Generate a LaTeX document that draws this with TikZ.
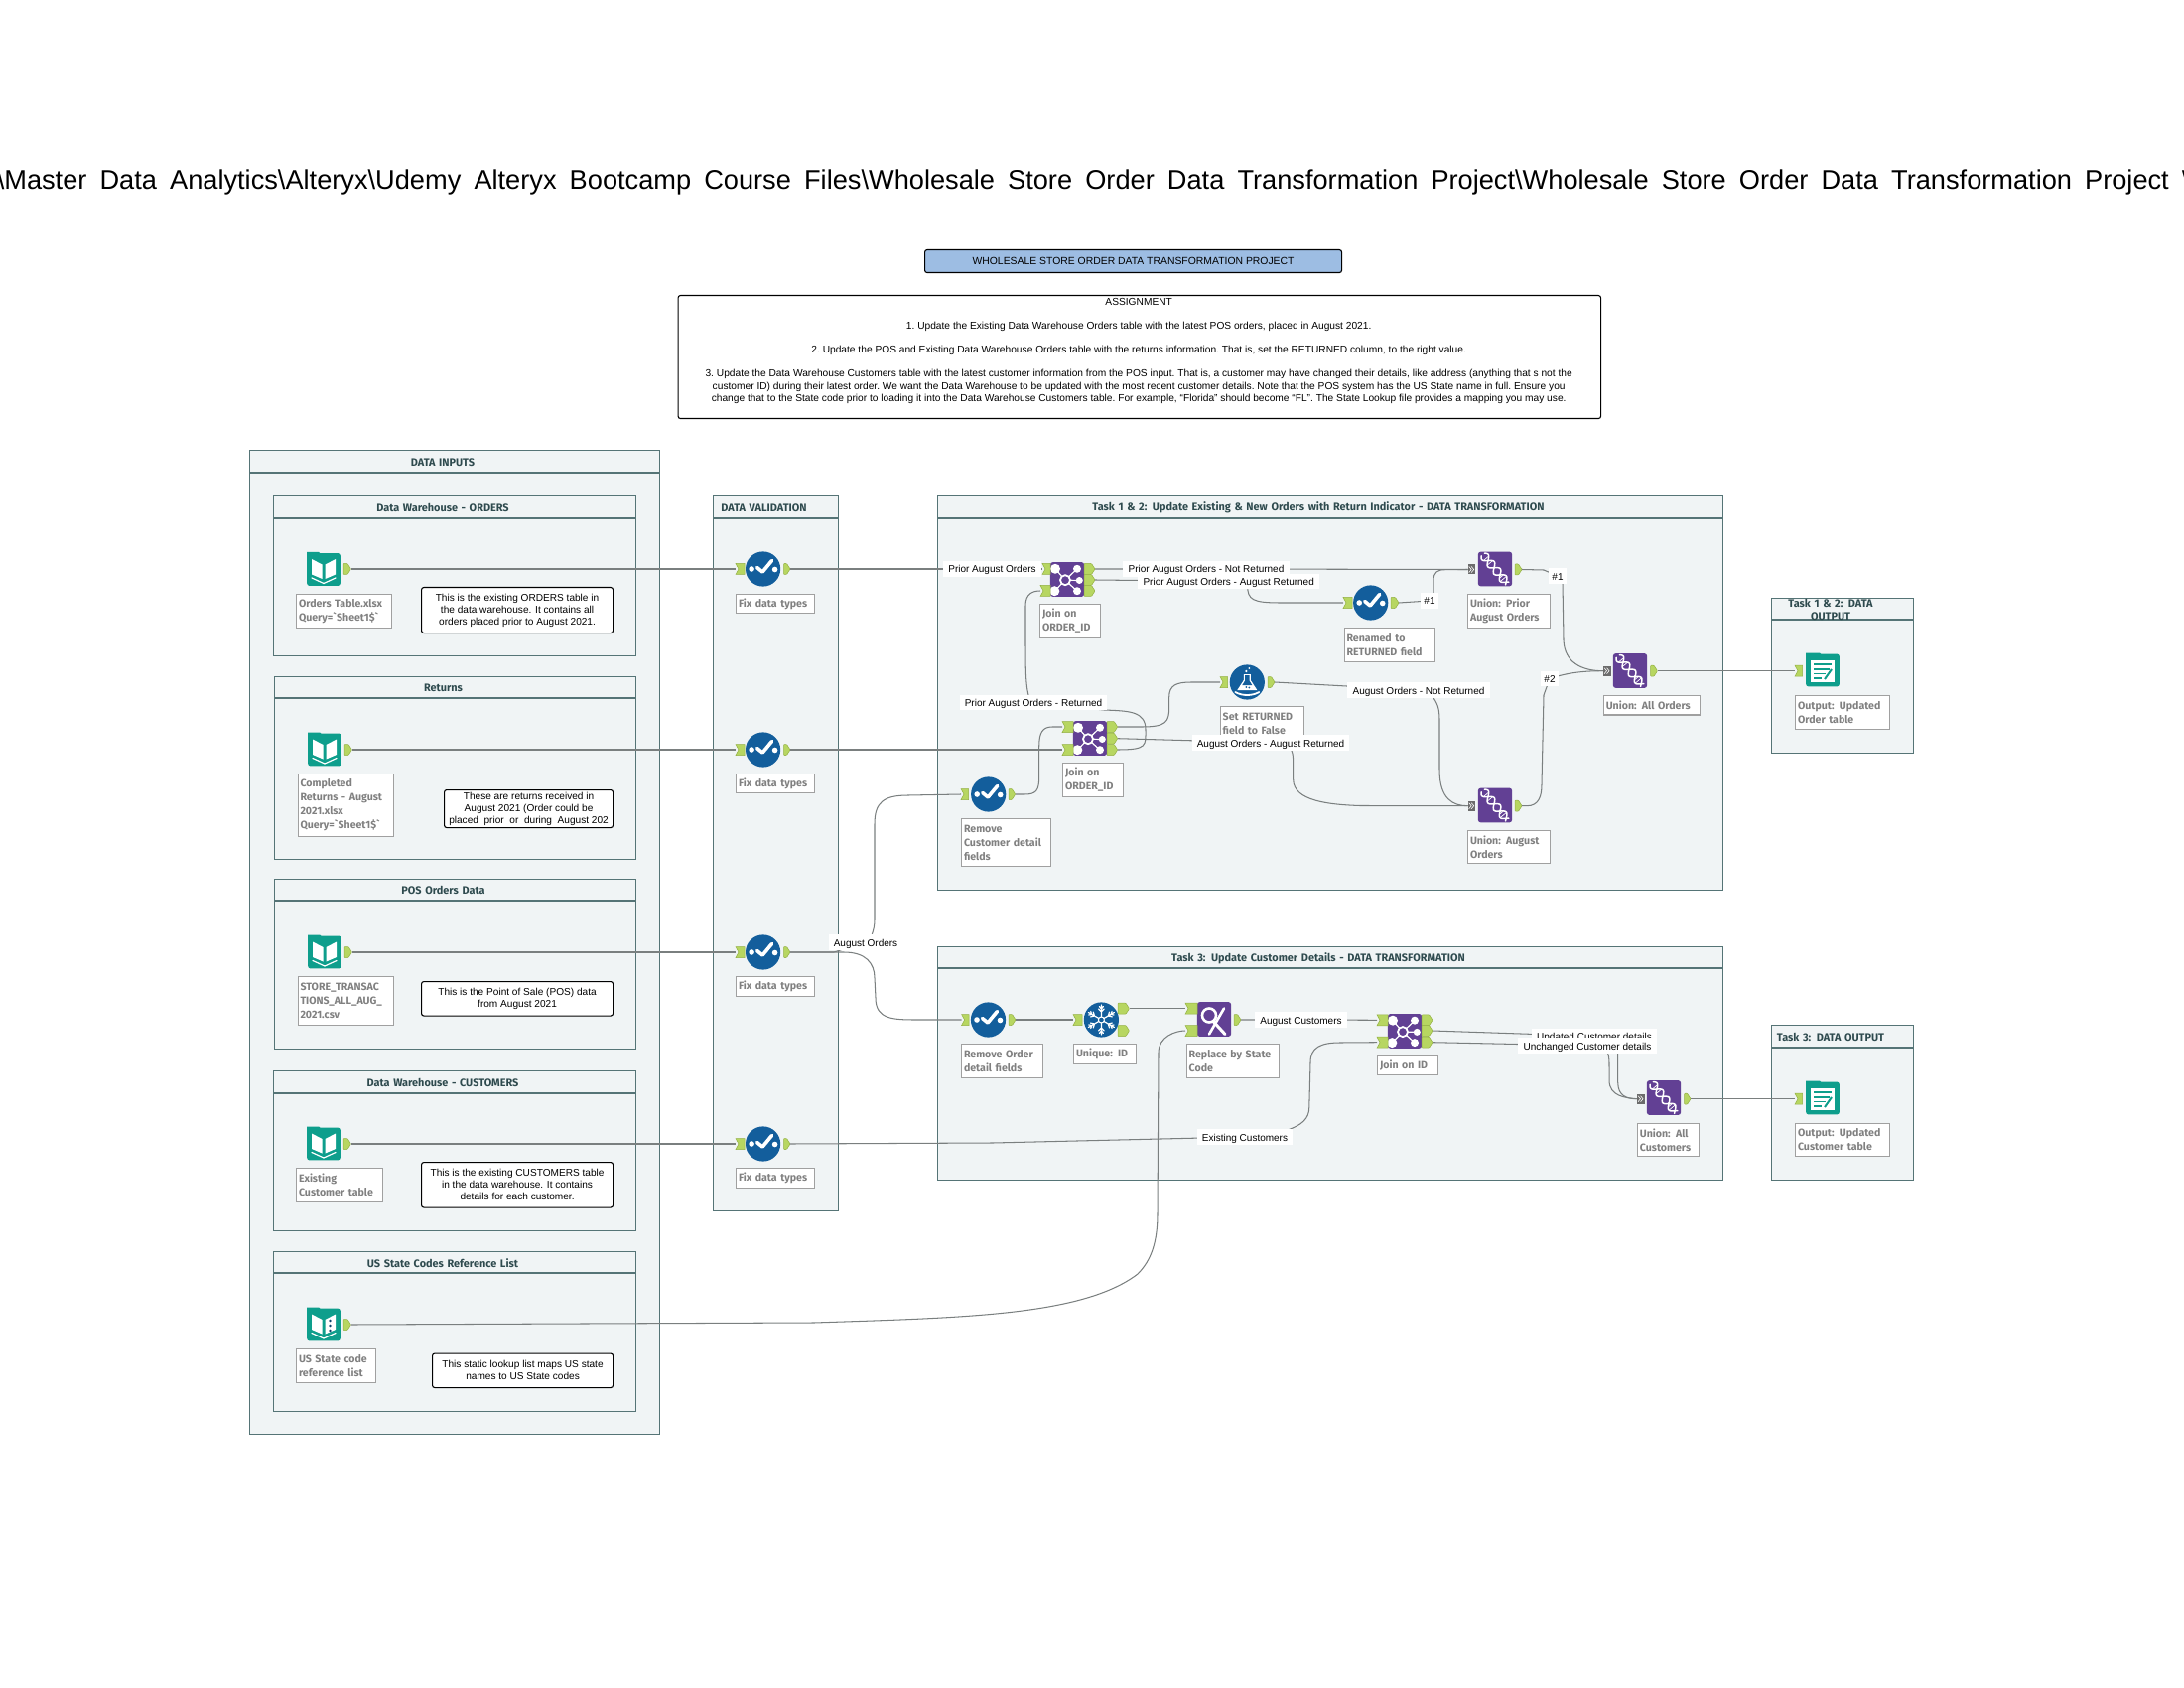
\documentclass[tikz,border=0pt]{standalone}
\usepackage{fontspec}
\setmainfont{Liberation Sans}
\newfontfamily\toolfont{Fira Sans}
\usetikzlibrary{backgrounds}
\pgfdeclarelayer{back}
\pgfdeclarelayer{wires}
\pgfsetlayers{back,wires,main}
\definecolor{panelfill}{HTML}{F0F4F5}
\definecolor{panelline}{HTML}{557476}
\definecolor{headtext}{HTML}{2E4A4E}
\definecolor{labelgray}{HTML}{808080}
\definecolor{labeledge}{HTML}{A0A0A0}
\definecolor{wiregray}{HTML}{7A7F7F}
\definecolor{portgreen}{HTML}{B7D661}
\definecolor{portedge}{HTML}{93B043}
\definecolor{teal1}{HTML}{0E9E8C}
\definecolor{blue1}{HTML}{135E9C}
\definecolor{purple1}{HTML}{624094}
\definecolor{titleblue}{HTML}{9DBDE3}
\tikzset{
  panelbox/.style={draw=panelline,fill=panelfill,line width=0.7pt,anchor=north west,inner sep=0pt,minimum width=\pw pt,minimum height=\ph pt},
  paneltitle/.style={font=\toolfont\bfseries\fontsize{5.45}{6.5}\selectfont,text=headtext,align=center,inner sep=0pt},
  toollabel/.style={draw=labeledge,fill=white,line width=0.6pt,anchor=north west,inner ysep=0pt,inner xsep=1.2pt,align=left,font=\toolfont\bfseries\fontsize{5.3}{7}\selectfont,text=labelgray,minimum width=\pw pt,minimum height=\ph pt,text width=\pw pt-2.4pt},
  annot/.style={draw=black,fill=white,line width=0.55pt,rounded corners=1.2pt,anchor=north west,inner sep=0pt,align=center,font=\fontsize{5.05}{6}\selectfont,text=black,minimum width=\pw pt,minimum height=\ph pt},
  wirelab/.style={fill=white,inner xsep=2.6pt,inner ysep=0pt,minimum height=7.6pt,text height=4pt,text depth=0pt,font=\fontsize{5}{6}\selectfont,text=black},
  wire/.style={draw=wiregray,line width=0.52pt},
  bluetool/.style={circle,fill=blue1,minimum size=17.6pt,inner sep=0pt},
  tealtool/.style={rectangle,rounded corners=1.2pt,fill=teal1,minimum width=16.8pt,minimum height=16.4pt,inner sep=0pt},
  purpletool/.style={rectangle,rounded corners=1.4pt,fill=purple1,minimum width=17.2pt,minimum height=17.4pt,inner sep=0pt},
  portin/.style={fill=portgreen,draw=portedge,line width=0.25pt},
  detail/.style={draw=white,line width=0.7pt,line cap=round,line join=round},
}
\newcommand\Panel[7]{% name x0 y0 x1 y1 yh title
  \pgfmathsetmacro\pw{(#4-#2)*0.5}\pgfmathsetmacro\ph{(#5-#3)*0.5}
  \begin{pgfonlayer}{back}
  \node[panelbox] (#1) at (#2,#3) {};
  \draw[panelline,line width=0.6pt] (#1.north west |- 0,#6) -- (#1.north east |- 0,#6);
  \node[paneltitle,text width=\pw pt - 2pt] (#1t) at ({(#2+#4)/2-11.5},{(#3+#6)/2+0.8}) {#7};
  \end{pgfonlayer}}
\newcommand\ToolLabel[6]{% name x0 y0 x1 y1 text
  \pgfmathsetmacro\pw{(#4-#2)*0.5}\pgfmathsetmacro\ph{(#5-#3)*0.5}
  \begin{pgfonlayer}{back}
  \node[toollabel] (#1) at (#2,#3) {#6};
  \end{pgfonlayer}}
\newcommand\Note[6]{%
  \pgfmathsetmacro\pw{(#4-#2)*0.5}\pgfmathsetmacro\ph{(#5-#3)*0.5}
  \begin{pgfonlayer}{back}
  \node[annot] (#1) at (#2,#3) {#6};
  \end{pgfonlayer}}
\newcommand\InP[4]{% name x0 x1 y
  \coordinate (#1) at (#2,#4);
  \filldraw[portin] (#2,#4-5.5) -- (#3,#4-5.5) -- (#3,#4+5.5) -- (#2,#4+5.5) -- (#2+3,#4) -- cycle;}
\newcommand\OutP[4]{%
  \coordinate (#1) at (#3,#4);
  \filldraw[portin,rounded corners=0.4pt] (#2,#4-5.5) -- (#3-3.5,#4-5.5) -- (#3,#4) -- (#3-3.5,#4+5.5) -- (#2,#4+5.5) -- cycle;}
\newcommand\UniP[4]{%
  \coordinate (#1) at (#2,#4);
  \fill[gray!85!black] (#2,#4-5) rectangle (#3,#4+5);
  \draw[white,line width=0.3pt] (#2+1,#4-3) -- (#2+3.5,#4) -- (#2+1,#4+3) (#2+3.5,#4-3) -- (#2+6,#4) -- (#2+3.5,#4+3);}
\newcommand\CheckTool[3]{%
  \node[bluetool] (#1) at (#2,#3) {};
  \begin{scope}[shift={(#2,#3)}]
   \fill[white] (-11.5,0) circle (2.8) (12,0.5) circle (2.8);
   \draw[detail,line width=1.8pt] (-6,-1.5) -- (-0.5,3) -- (9,-8.5);
  \end{scope}}
\newcommand\BookTool[4]{% name x y extra
  \node[tealtool] (#1) at (#2,#3) {};
  \begin{scope}[shift={(#2,#3)}]
   \fill[teal1] (-17,-12) -- (-17,-17.5) -- (-5,-17.5) -- (-1,-14) -- cycle;
   \fill[white] (-12,-10.5) -- (-1.5,-5) -- (-1.5,9.5) -- (-12,5) -- cycle;
   \fill[white] (12,-10.5) -- (1.5,-5) -- (1.5,9.5) -- (12,5) -- cycle;
   \draw[detail,line width=0.6pt] (-12,8.5) -- (0,14) -- (12,8.5);
   #4
  \end{scope}}
\newcommand\OutTool[3]{%
  \node[tealtool] (#1) at (#2,#3) {};
  \begin{scope}[shift={(#2,#3)}]
   \fill[teal1] (-17,-12) -- (-17,-17.5) -- (-3,-17.5) -- (0,-14) -- cycle;
   \fill[white] (-12,-10.5) rectangle (12,12);
   \draw[teal1,line width=0.8pt] (-9,-6) -- (9,-6) (-9,-1) -- (7,-1) (-9,3.5) -- (3,3.5) (-9,8) -- (-1,8);
   \draw[teal1,line width=1pt] (2,9) -- (9,-1);
  \end{scope}}
\newcommand\JoinTool[3]{%
  \node[purpletool] (#1) at (#2,#3) {};
  \begin{scope}[shift={(#2,#3)}]
   \draw[white,line width=0.6pt] (-2,0.7) -- (-12,-10.7) (-2,0.7) -- (10,-10.7) (-2,0.7) -- (12.3,1) (-2,0.7) -- (10,11.7) (-2,0.7) -- (-12.7,11.7);
   \fill[white] (-12,-10.7) circle (5) (10,-10.7) circle (4) (12.3,1) circle (3.5) (10,11.7) circle (4) (-12.7,11.7) circle (5);
   \filldraw[fill=purple1,draw=white,line width=0.9pt] (-2,0.7) circle (5);
  \end{scope}}
\newcommand\UnionTool[3]{%
  \node[purpletool] (#1) at (#2,#3) {};
  \begin{scope}[shift={(#2,#3)},rotate=-50]
   \draw[white,line width=0.75pt,line cap=round] plot[domain=-19:19,samples=41,smooth] (\x,{4.2*sin(\x*19+30)});
   \draw[white,line width=0.75pt,line cap=round] plot[domain=-19:19,samples=41,smooth] (\x,{-4.2*sin(\x*19+30)});
   \foreach \r in {-14,-11,-8,7,10,13}{
     \draw[white,line width=0.35pt] (\r,{4.2*sin(\r*19+30)}) -- (\r,{-4.2*sin(\r*19+30)});}
  \end{scope}}
\newcommand\ReplaceTool[3]{%
  \node[purpletool] (#1) at (#2,#3) {};
  \begin{scope}[shift={(#2,#3)}]
   \draw[detail,line width=1.3pt] (10,-11) -- (-5,15);
   \draw[white,line width=1.5pt,line cap=round] (-1,2) -- (11,15);
   \draw[white,line width=1.3pt,fill=purple1] (-5,-4) circle (7);
  \end{scope}}
\newcommand\FlaskTool[3]{%
  \node[bluetool] (#1) at (#2,#3) {};
  \begin{scope}[shift={(#2,#3)}]
   \fill[white] (-3.5,-8) -- (3.5,-8) -- (3.5,-2) -- (10,8) -- (-10,8) -- (-3.5,-2) -- cycle;
   \fill[blue1] (-2.2,-7) -- (2.2,-7) -- (2.2,-1.5) -- (5,3) -- (-5,3) -- (-2.2,-1.5) -- cycle;
   \fill[blue1] (2,5.5) circle (1) (-1,5) circle (1);
   \draw[blue1,line width=0.3pt] (0,0.5) circle (1.6);
   \fill[white] (-1,-11) circle (1.3) (2,-14) circle (1);
   \draw[detail,line width=0.9pt] (-12,10) .. controls (-5,14) and (5,14) .. (12,10);
  \end{scope}}
\newcommand\FlakeTool[3]{%
  \node[bluetool] (#1) at (#2,#3) {};
  \begin{scope}[shift={(#2,#3)}]
   \foreach \a in {30,90,150,210,270,330}{
    \begin{scope}[rotate=\a]
     \draw[detail,line width=0.6pt] (3,0) -- (15,0) (8,0) -- (11,2.8) (8,0) -- (11,-2.8) (11,0) -- (13.5,2) (11,0) -- (13.5,-2);
    \end{scope}}
   \draw[white,line width=0.5pt] (0,0) circle (3);
  \end{scope}}
\begin{document}
\begin{tikzpicture}[x=0.5pt,y=-0.5pt]
\useasboundingbox (0,0) rectangle (2200,1700);
% page title, running past both edges
\begin{scope}
\clip (0,0) rectangle (2200,1700);
\node[anchor=base west,inner sep=0pt,font=\fontsize{13.6}{16}\selectfont] (pagetitle) at (-3.6,190.7)
 {\spaceskip=6.56pt\textbackslash Master Data Analytics\textbackslash Alteryx\textbackslash Udemy Alteryx Bootcamp Course Files\textbackslash Wholesale Store Order Data Transformation Project\textbackslash Wholesale Store Order Data Transformation Project W};
\end{scope}
% heading and assignment
\pgfmathsetmacro\pw{(1351-931)*0.5}\pgfmathsetmacro\ph{(274-251)*0.5}
\node[annot,fill=titleblue,font=\fontsize{5.2}{6}\selectfont] (heading) at (931,251) {WHOLESALE STORE ORDER DATA TRANSFORMATION PROJECT};
\pgfmathsetmacro\pw{(1612-682.5)*0.5}\pgfmathsetmacro\ph{(421-297)*0.5}
\node[annot] (assign) at (682.5,297) {};
\node[inner sep=0pt,align=center,font=\frenchspacing\fontsize{5.1}{6.2}\selectfont] (assigntext) at (assign.center) [yshift=3pt,xshift=-0.3pt] {ASSIGNMENT\\[5.8pt]
1. Update the Existing Data Warehouse Orders table with the latest POS orders, placed in August 2021.\\[5.8pt]
2. Update the POS and Existing Data Warehouse Orders table with the returns information. That is, set the RETURNED column, to the right value.\\[5.8pt]
3. Update the Data Warehouse Customers table with the latest customer information from the POS input. That is, a customer may have changed their details, like address (anything that s not the\\
customer ID) during their latest order. We want the Data Warehouse to be updated with the most recent customer details. Note that the POS system has the US State name in full. Ensure you\\
change that to the State code prior to loading it into the Data Warehouse Customers table. For example, “Florida” should become “FL”. The State Lookup file provides a mapping you may use.};
% containers
\Panel{inputs}{251}{453}{664}{1444}{476}{DATA INPUTS}
\Panel{orders}{275}{499}{640}{660}{522}{Data Warehouse - ORDERS}
\Panel{returns}{276}{681}{640}{865}{703}{Returns}
\Panel{pos}{276}{885}{640}{1055.5}{907}{POS Orders Data}
\Panel{customers}{275}{1078}{640}{1238.5}{1101}{Data Warehouse - CUSTOMERS}
\Panel{states}{275}{1260}{640}{1421}{1282}{US State Codes Reference List}
\Panel{validation}{718}{499}{844}{1219}{522}{DATA VALIDATION}
\Panel{task12}{944}{499}{1735}{896}{522}{Task 1 \& 2: Update Existing \& New Orders with Return Indicator - DATA TRANSFORMATION}
\Panel{task3}{944}{953}{1735}{1188}{975}{Task 3: Update Customer Details - DATA TRANSFORMATION}
\Panel{outA}{1784}{602}{1927}{758}{624}{Task 1 \& 2: DATA\\OUTPUT}
\Panel{outB}{1784}{1032}{1927}{1188}{1055}{Task 3: DATA OUTPUT}
% notes
\Note{n1}{424}{591}{617}{637}{This is the existing ORDERS table in\\the data warehouse. It contains all\\orders placed prior to August 2021.}
\Note{n2}{447}{795}{617}{833}{These are returns received in\\August 2021 (Order could be\\placed\ \ prior\ \ or\ \ during\ \ August 202}
\Note{n3}{424}{988}{617}{1022.5}{This is the Point of Sale (POS) data\\from August 2021}
\Note{n4}{424}{1170}{617}{1215.5}{This is the existing CUSTOMERS table\\in the data warehouse. It contains\\details for each customer.}
\Note{n5}{435}{1362.5}{617}{1397}{This static lookup list maps US state\\names to US State codes}
% tool labels
\ToolLabel{l1}{298}{598}{394}{632}{Orders Table.xlsx\\Query=`Sheet1\$`}
\ToolLabel{l2}{299.5}{779}{395.5}{842}{Completed\\Returns - August\\2021.xlsx\\Query=`Sheet1\$`}
\ToolLabel{l3}{299.5}{983}{396}{1031.5}{STORE\_TRANSAC\\TIONS\_ALL\_AUG\_\\2021.csv}
\ToolLabel{l4}{298}{1176}{385}{1210}{Existing\\Customer table}
\ToolLabel{l5}{298}{1358}{377.5}{1392}{US State code\\reference list}
\ToolLabel{lf1}{741}{598}{820}{617}{Fix data types}
\ToolLabel{lf2}{741}{779}{820}{798}{Fix data types}
\ToolLabel{lf3}{741}{983}{820}{1003}{Fix data types}
\ToolLabel{lf4}{741}{1176}{820}{1196}{Fix data types}
\ToolLabel{lj1}{1047}{608}{1108}{642}{Join on\\ORDER\_ID}
\ToolLabel{lj2}{1070}{768}{1131}{802}{Join on\\ORDER\_ID}
\ToolLabel{lrc}{968}{824}{1058}{872}{Remove\\Customer detail\\fields}
\ToolLabel{lset}{1228.7}{711}{1313}{745}{Set RETURNED\\field to False}
\ToolLabel{lren}{1353.5}{631.7}{1445}{665.7}{Renamed to\\RETURNED field}
\ToolLabel{lu1}{1478}{597.7}{1561}{631.7}{Union: Prior\\August Orders}
\ToolLabel{lu2}{1478}{835.7}{1561}{869}{Union: August\\Orders}
\ToolLabel{lu3}{1614.8}{699.7}{1711.7}{719.3}{Union: All Orders}
\ToolLabel{lo1}{1808}{699.7}{1903}{733.7}{Output: Updated\\Order table}
\ToolLabel{lro}{968}{1051}{1050}{1085}{Remove Order\\detail fields}
\ToolLabel{lun}{1081}{1051}{1144}{1070.7}{Unique: ID}
\ToolLabel{lrep}{1194.7}{1051}{1287.8}{1085}{Replace by State\\Code}
\ToolLabel{lj3}{1387}{1062.7}{1447.8}{1082}{Join on ID}
\ToolLabel{luc}{1648.9}{1130.7}{1711}{1164}{Union: All\\Customers}
\ToolLabel{lo2}{1808}{1130.7}{1903}{1164}{Output: Updated\\Customer table}
% tools and ports
\BookTool{b1}{326}{573.5}{}\OutP{b1o}{346}{353.5}{573}
\BookTool{b2}{327}{755}{}\OutP{b2o}{347}{354.5}{755}
\BookTool{b3}{327}{959}{}\OutP{b3o}{347}{354.5}{959}
\BookTool{b4}{326}{1152}{}\OutP{b4o}{346}{353.5}{1152}
\BookTool{b5}{326}{1334}{\fill[blue1!70!black] (6.5,-4) circle (1.4) (6.5,1) circle (1.4) (6.5,6) circle (1.4);}\OutP{b5o}{346}{353.5}{1334}
\CheckTool{f1}{768.6}{573}\InP{f1i}{741}{750}{573}\OutP{f1o}{789.5}{796}{573}
\CheckTool{f2}{768.6}{755}\InP{f2i}{741}{750}{755}\OutP{f2o}{789.5}{796}{755}
\CheckTool{f3}{768.6}{959}\InP{f3i}{741}{750}{959}\OutP{f3o}{789.5}{796}{959}
\CheckTool{f4}{768.6}{1152}\InP{f4i}{741}{750}{1152}\OutP{f4o}{789.5}{796}{1152}
\JoinTool{j1}{1075}{583.5}
\InP{j1i1}{1050}{1058}{573}\InP{j1i2}{1048}{1058}{595}
\OutP{j1o1}{1092}{1103}{573}\OutP{j1o2}{1092}{1103}{584}\OutP{j1o3}{1092}{1103}{595}
\JoinTool{j2}{1098}{743.5}
\InP{j2i1}{1070}{1081}{732}\InP{j2i2}{1070}{1081}{755}
\OutP{j2o1}{1115}{1125.7}{732}\OutP{j2o2}{1115}{1125.7}{743.7}\OutP{j2o3}{1115}{1125.7}{755}
\CheckTool{rc}{995.7}{800}\InP{rci}{968}{975.7}{800}\OutP{rco}{1016}{1022.7}{800}
\FlaskTool{fx}{1256.3}{687}\InP{fxi}{1229}{1236.7}{687}\OutP{fxo}{1277}{1284}{687}
\CheckTool{ren}{1380.7}{607}\InP{reni}{1353}{1362}{607}\OutP{reno}{1401}{1409}{607}
\UnionTool{u1}{1506}{573}\UniP{u1i}{1478.7}{1486.4}{573.5}\OutP{u1o}{1526}{1533}{573.5}
\UnionTool{u2}{1506}{811}\UniP{u2i}{1478.7}{1486.4}{811.7}\OutP{u2o}{1526}{1533}{811.7}
\UnionTool{u3}{1642}{675.5}\UniP{u3i}{1615}{1623}{675.7}\OutP{u3o}{1662.6}{1669.5}{675.7}
\OutTool{oa}{1836}{675}\InP{oai}{1808}{1815.5}{675.7}
\CheckTool{ro}{995.5}{1027}\InP{roi}{968.6}{976}{1027}\OutP{roo}{1016}{1023}{1027}
\FlakeTool{un}{1109.4}{1027}\InP{uni}{1081}{1090}{1027}\OutP{uno1}{1126}{1137.5}{1015.7}\OutP{uno2}{1126}{1137.5}{1038}
\ReplaceTool{rep}{1223}{1026.5}\InP{repi1}{1194}{1206}{1015.7}\InP{repi2}{1194}{1206}{1038}\OutP{repo}{1243}{1250}{1027}
\JoinTool{j3}{1415}{1038.4}
\InP{j3i1}{1387}{1398}{1027.3}\InP{j3i2}{1387}{1398}{1049.7}
\OutP{j3o1}{1432}{1443}{1027.3}\OutP{j3o2}{1432}{1443}{1038}\OutP{j3o3}{1432}{1443}{1049.7}
\UnionTool{u4}{1676}{1105.5}\UniP{u4i}{1649}{1657}{1106.7}\OutP{u4o}{1696.7}{1703}{1106.7}
\OutTool{ob}{1836}{1106}\InP{obi}{1808}{1815.5}{1106.7}
% connector labels
\node[wirelab] (wpao) at (999.5,573) {Prior August Orders};
\node[wirelab] (wnr) at (1215,573) {Prior August Orders - Not Returned};
\node[wirelab] (war) at (1237.7,585.5) {Prior August Orders - August Returned};
\node[wirelab] (wret) at (1041,707.5) {Prior August Orders - Returned};
\node[wirelab] (waar) at (1280,748) {August Orders - August Returned};
\node[wirelab] (wanr) at (1429,695) {August Orders - Not Returned};
\node[wirelab,inner xsep=1.6pt] (h1a) at (1440,605) {\#1};
\node[wirelab,inner xsep=1.6pt] (h1b) at (1569,580) {\#1};
\node[wirelab,inner xsep=1.6pt] (h2) at (1561,683.5) {\#2};
\node[wirelab] (wao) at (872,949) {August Orders};
\node[wirelab] (wec) at (1254,1145) {Existing Customers};
\node[wirelab] (wac) at (1310.5,1027) {August Customers};
\node[wirelab] (wuc) at (1606,1043.5) {Updated Customer details};
\node[wirelab] (wunc) at (1599,1053) {Unchanged Customer details};
% connectors
\begin{pgfonlayer}{wires}
\draw[wire] (b1o) -- (f1i);
\draw[wire] (b2o) -- (f2i);
\draw[wire] (b3o) -- (f3i);
\draw[wire] (b4o) -- (f4i);
\draw[wire] (f1o) -- (wpao.center) -- (j1i1);
\draw[wire] (j1o1) -- (wnr.center) -- (u1i);
\draw[wire] (j1o2) -- (war.center);
\draw[wire] (war.center) -- (1256.7,590) .. controls +(0,14) and +(-28,0) .. (1290,607) -- (reni);
\draw[wire] (reno) -- (h1a.center);
\draw[wire] (h1a.center) -- (1444,600) -- (1444,585) .. controls +(0,-9) and +(-8,0) .. (1456,573.7) -- (u1i);
\draw[wire] (j2o3) .. controls +(30,0) and +(0,16) .. (1154,735) .. controls +(0,-19) and +(25,1) .. (1112,715) -- (wret.center) -- (1036,700) .. controls +(-3,-12) and +(0,30) .. (1033,640) -- (1033,610) .. controls +(0,-12) and +(-8,0) .. (j1i2);
\draw[wire] (j2o1) -- (1150,732) .. controls +(25,0) and +(0,15) .. (1177.7,712) -- (1177.7,702) .. controls +(0,-12) and +(-15,0) .. (1200,687) -- (fxi);
\draw[wire] (j2o2) -- (waar.center) -- (1298,750) .. controls +(4,6) and +(0,-10) .. (1302.7,770) -- (1302.7,785) .. controls +(0,22) and +(-30,-1) .. (1370,811.5) -- (u2i);
\draw[wire] (fxo) -- (wanr.center) -- (1442,700) .. controls +(6,8) and +(0,-12) .. (1450,725) -- (1450,775) .. controls +(0,30) and +(-15,0) .. (u2i);
\draw[wire] (f2o) -- (j2i2);
\draw[wire] (f3o) -- (840,959) -- (wao.center) -- (878,942) .. controls +(2,-6) and +(0,8) .. (881,925) -- (881,830) .. controls +(0,-22) and +(-25,0) .. (915,801) -- (rci);
\draw[wire] (f3o) -- (850,959) .. controls +(22,0) and +(0,-15) .. (881,985) -- (882,1005) .. controls +(0,22) and +(-25,0) .. (925,1027) -- (roi);
\draw[wire] (rco) -- (1032,800) .. controls +(12,0) and +(0,14) .. (1046.7,782) -- (1046.7,752) .. controls +(0,-14) and +(-10,0) .. (1060,732) -- (j2i1);
\draw[wire] (roo) -- (uni);
\draw[wire] (uno1) -- (repi1);
\draw[wire] (repo) -- (wac.center) -- (j3i1);
\draw[wire] (b5o) -- (820,1332) .. controls +(150,-5) and +(-55,42) .. (1146,1283) .. controls +(14,-14) and +(0,28) .. (1166,1222) -- (1167,1060) .. controls +(0,-16) and +(-10,0) .. (repi2);
\draw[wire] (f4o) -- (1000,1151) -- (wec.center) -- (1297,1138) .. controls +(14,-5) and +(0,12) .. (1318.8,1115) -- (1320,1070) .. controls +(0,-15) and +(-20,0) .. (1350,1050) -- (j3i2);
\draw[wire] (j3o2) -- (wuc.center) -- (1629.7,1048) -- (1629.7,1090) .. controls +(0,14) and +(-10,0) .. (u4i);
\draw[wire] (j3o3) -- (wunc.center) -- (1618,1058) .. controls +(3,4) and +(0,-8) .. (1621,1075) -- (1621,1088) .. controls +(0,16) and +(-12,-1) .. (u4i);
\draw[wire] (u4o) -- (obi);
\draw[wire] (u1o) -- (1555,574) -- (h1b.center) -- (1574,588) -- (1575,645) .. controls +(1,22) and +(-22,0) .. (u3i);
\draw[wire] (u2o) -- (1538,811.7) .. controls +(12,0) and +(0,12) .. (1553,790) -- (1555,700) -- (h2.center) .. controls +(20,-7) and +(-15,0) .. (u3i);
\draw[wire] (u3o) -- (oai);
\end{pgfonlayer}
\end{tikzpicture}
\end{document}
